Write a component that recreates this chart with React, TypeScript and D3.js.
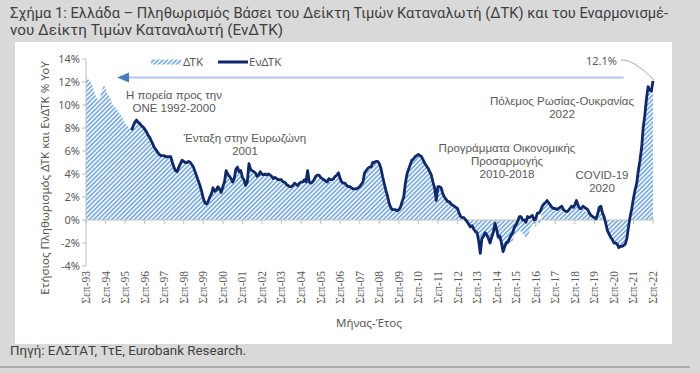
import * as d3 from "d3";
import React from "react";

// monthly y/y %, ΔΤΚ from Sep 1993, ΕνΔΤΚ from Jan 1996, both to Sep 2022
const cpi: number[] = [
  12.5, 12.3, 12.1, 12.0, // 1993 Sep-Dec
  11.6, 11.2, 10.8, 10.5, 10.4, 10.9, 11.4, 11.7, 11.5, 11.0, 10.8, 10.6,
  10.1, 9.9, 9.8, 9.6, 9.4, 9.2, 9.0, 8.7, 8.4, 8.2, 8.1, 7.9,
  8.1, 8.3, 8.5, 8.6, 8.4, 8.3, 8.2, 8.0, 7.8, 7.6, 7.4, 7.2,
  6.8, 6.5, 6.2, 6.0, 5.8, 5.6, 5.5, 5.5, 5.5, 5.4, 5.4, 5.3,
  5.3, 4.9, 4.5, 4.2, 4.1, 4.5, 4.8, 5.1, 5.0, 4.9, 4.9, 4.9,
  4.8, 4.6, 4.4, 4.0, 3.6, 3.2, 2.8, 2.3, 1.8, 1.5, 1.4, 1.6,
  2.0, 2.3, 2.7, 2.5, 2.6, 2.8, 2.7, 2.5, 2.9, 3.3, 4.2, 3.9,
  3.7, 3.5, 3.2, 3.5, 4.3, 4.5, 4.1, 4.2, 3.6, 3.4, 3.0, 3.2,
  4.6, 4.3, 4.2, 4.0, 4.0, 3.7, 3.7, 4.0, 3.8, 3.7, 3.8, 3.7,
  3.8, 3.7, 3.6, 3.4, 3.5, 3.4, 3.4, 3.3, 3.3, 3.1, 3.1, 3.0,
  2.9, 2.8, 2.8, 2.9, 3.0, 3.0, 2.9, 3.0, 3.1, 3.1, 3.3, 3.1,
  4.1, 3.2, 3.1, 3.2, 3.4, 3.6, 3.7, 3.7, 3.6, 3.5, 3.4, 3.3,
  3.2, 3.4, 3.3, 3.3, 3.4, 3.6, 3.7, 3.9, 3.5, 3.2, 3.1, 3.1,
  2.9, 2.8, 2.8, 2.7, 2.6, 2.6, 2.6, 2.7, 2.8, 3.0, 3.2, 3.9,
  4.1, 4.3, 4.4, 4.4, 4.8, 4.9, 4.9, 4.9, 4.7, 4.4, 3.7, 3.1,
  2.5, 2.0, 1.5, 1.1, 0.9, 0.8, 0.8, 0.8, 0.9, 1.1, 1.6, 2.0,
  3.1, 3.9, 4.3, 4.7, 5.1, 5.2, 5.4, 5.5, 5.6, 5.5, 5.4, 5.1,
  4.8, 4.6, 4.4, 4.1, 3.8, 3.2, 2.7, 1.6, 2.8, 2.8, 2.7, 2.3,
  2.0, 1.7, 1.6, 1.5, 1.3, 1.2, 1.2, 1.0, 0.9, 0.6, 0.3, 0.3,
  0.2, 0.1, -0.2, -0.6, -0.5, -0.6, -0.9, -1.3, -1.2, -2.0, -2.9, -1.8,
  -1.5, -1.3, -1.5, -1.7, -2.1, -1.7, -1.4, -0.9, -1.2, -1.8, -1.6, -2.2,
  -2.8, -2.4, -2.2, -2.1, -2.0, -1.9, -1.8, -1.3, -1.2, -1.1, -0.9, -1.0,
  -1.2, -1.3, -1.6, -1.4, -1.1, -0.6, -0.4, -0.3, -0.6, -0.1, -0.3, -0.2,
  1.0, 1.3, 1.4, 1.6, 1.4, 1.1, 1.0, 0.8, 0.8, 0.7, 0.8, 0.9,
  1.0, 0.7, 0.6, 0.5, 0.6, 0.8, 1.0, 0.9, 1.1, 1.5, 1.1, 0.8,
  0.8, 1.0, 0.8, 0.7, 0.7, 0.4, 0.2, 0.1, 0.0, -0.1, 0.3, 0.9,
  1.0, 0.4, 0.1, -0.5, -1.1, -1.4, -1.6, -1.8, -2.1, -2.1, -2.2, -2.4,
  -2.4, -2.4, -2.3, -2.2, -1.7, -0.7, 0.2, 0.9, 1.8, 2.5, 3.1, 4.2,
  5.1, 6.2, 7.8, 9.0, 10.2, 11.3, 11.1, 11.0, 11.9, // 2022 Jan-Sep
];

const hicp: number[] = [
  7.8, 8.2, 8.5, 8.7, 8.5, 8.4, 8.2, 8.1, 7.9, 7.7, 7.4, 7.2, // 1996
  6.9, 6.6, 6.3, 6.1, 5.9, 5.7, 5.6, 5.6, 5.6, 5.5, 5.5, 5.5,
  5.5, 5.0, 4.6, 4.3, 4.2, 4.6, 4.9, 5.2, 5.1, 5.0, 5.0, 5.1,
  5.0, 4.8, 4.6, 4.2, 3.8, 3.4, 3.0, 2.5, 1.9, 1.5, 1.4, 1.6,
  2.0, 2.3, 2.8, 2.5, 2.6, 2.9, 2.7, 2.4, 2.9, 3.3, 4.3, 4.0,
  3.8, 3.6, 3.3, 3.6, 4.4, 4.6, 4.2, 4.3, 3.7, 3.5, 3.0, 3.3,
  4.9, 4.4, 4.3, 4.2, 4.1, 3.8, 3.9, 4.2, 4.0, 3.9, 4.0, 3.9,
  4.0, 3.9, 3.8, 3.6, 3.7, 3.6, 3.5, 3.5, 3.5, 3.3, 3.3, 3.1,
  3.0, 2.9, 2.9, 3.0, 3.2, 3.1, 3.0, 3.2, 3.3, 3.3, 3.5, 3.3,
  4.3, 3.3, 3.2, 3.3, 3.5, 3.8, 3.9, 3.9, 3.7, 3.6, 3.5, 3.4,
  3.3, 3.6, 3.5, 3.5, 3.6, 3.8, 3.9, 4.1, 3.6, 3.3, 3.2, 3.2,
  3.0, 2.9, 2.9, 2.8, 2.7, 2.7, 2.7, 2.8, 2.9, 3.1, 3.3, 4.1,
  4.3, 4.5, 4.6, 4.6, 5.0, 5.0, 5.1, 5.1, 4.9, 4.5, 3.8, 3.2,
  2.6, 2.1, 1.5, 1.1, 0.9, 0.9, 0.9, 0.8, 0.9, 1.1, 1.6, 2.0,
  3.2, 4.0, 4.4, 4.8, 5.2, 5.3, 5.5, 5.6, 5.7, 5.6, 5.5, 5.2,
  4.9, 4.7, 4.5, 4.2, 3.9, 3.3, 2.8, 1.7, 2.9, 2.9, 2.8, 2.3,
  2.0, 1.8, 1.6, 1.6, 1.4, 1.3, 1.2, 1.1, 1.0, 0.6, 0.3, 0.2,
  0.2, 0.0, -0.15, -0.4, -0.6, -0.5, -0.8, -1.0, -1.1, -1.8, -2.9, -1.6,
  -1.4, -1.1, -1.3, -1.6, -2.0, -1.5, -1.1, -0.3, -0.8, -1.5, -1.4, -2.0,
  -2.75, -2.3, -2.0, -1.9, -1.6, -1.3, -1.1, -0.6, -0.4, -0.1, 0.3, 0.3,
  0.0, 0.0, -0.2, 0.3, 0.2, 0.3, 0.4, 0.0, 0.1, 0.6, 0.6, 0.8,
  1.2, 1.4, 1.5, 1.7, 1.5, 1.3, 1.1, 1.0, 1.0, 0.9, 1.0, 1.1,
  1.2, 0.9, 0.8, 0.7, 0.8, 1.0, 1.2, 1.1, 1.3, 1.7, 1.3, 1.0,
  1.0, 1.2, 1.1, 1.0, 0.9, 0.6, 0.4, 0.3, 0.2, 0.1, 0.5, 1.1,
  1.2, 0.6, 0.3, -0.3, -0.9, -1.2, -1.5, -1.7, -2.0, -2.0, -2.1, -2.4,
  -2.3, -2.3, -2.2, -2.1, -1.6, -0.6, 0.3, 1.0, 1.9, 2.6, 3.2, 4.3,
  5.2, 6.3, 8.0, 9.1, 10.5, 11.6, 11.3, 11.2, 12.1, // 2022 Jan-Sep
];

const yTicks = [-4, -2, 0, 2, 4, 6, 8, 10, 12, 14];
const tickYears = d3.range(1993, 2023);

const notes = [
  { lines: ["Η πορεία προς την", "ΟΝΕ 1992-2000"], x: 174, y: 95 },
  { lines: ["Ένταξη στην Ευρωζώνη", "2001"], x: 245, y: 138 },
  { lines: ["Πόλεμος Ρωσίας-Ουκρανίας", "2022"], x: 562, y: 101 },
  { lines: ["Προγράμματα Οικονομικής", "Προσαρμογής", "2010-2018"], x: 507, y: 148 },
  { lines: ["COVID-19", "2020"], x: 602, y: 175 },
];

const W = 700, H = 373;
const navy = "#0f2868";
const grey = "#595959";
const sans = "'Noto Sans', 'Open Sans', sans-serif";

const start = new Date(1993, 8, 1);
const hicpStart = new Date(1996, 0, 1);

export default function App() {
  const x = d3.scaleTime().domain([start, new Date(2022, 8, 1)]).range([86, 653]);
  const y = d3.scaleLinear().domain([-4, 14]).range([266, 59]);

  const cpiPts = cpi.map((v, i) => ({ d: d3.timeMonth.offset(start, i), v }));
  const hicpPts = hicp.map((v, i) => ({ d: d3.timeMonth.offset(hicpStart, i), v }));

  const area = d3.area<{ d: Date; v: number }>()
    .x((p) => x(p.d)).y0(y(0)).y1((p) => y(p.v));
  const line = d3.line<{ d: Date; v: number }>()
    .x((p) => x(p.d)).y((p) => y(p.v));

  const last = hicpPts[hicpPts.length - 1];
  const lx = x(last.d), ly = y(last.v);

  return (
    <svg width={W} height={H} style={{ position: "absolute", left: 0, top: 0 }}>
      <defs>
        <pattern id="hatch" width={3.2} height={3.2} patternUnits="userSpaceOnUse" patternTransform="rotate(45)">
          <rect width={3.2} height={3.2} fill="#f1f6fc" />
          <rect width={1.5} height={3.2} fill="#76a9dc" />
        </pattern>
      </defs>
      <rect width={W} height={H} fill="#d9d9d9" />
      <rect x={15} y={42} width={657} height={302} fill="#ffffff" />
      <line x1={0} x2={690} y1={367} y2={367} stroke="#7f7f7f" strokeWidth={1} />

      <text x={10} y={18} fontFamily="'Liberation Sans Narrow', Roboto, sans-serif" fontSize={15} fill="#404040"
        textLength={658} lengthAdjust="spacingAndGlyphs">
        Σχήμα 1: Ελλάδα – Πληθωρισμός Βάσει του Δείκτη Τιμών Καταναλωτή (ΔΤΚ) και του Εναρμονισμέ-
      </text>
      <text x={10} y={35} fontFamily="'Liberation Sans Narrow', Roboto, sans-serif" fontSize={15} fill="#404040"
        textLength={273} lengthAdjust="spacingAndGlyphs">
        νου Δείκτη Τιμών Καταναλωτή (ΕνΔΤΚ)
      </text>
      <text x={10} y={355} fontFamily="'Liberation Sans Narrow', Roboto, sans-serif" fontSize={13} fill="#404040"
        textLength={236} lengthAdjust="spacingAndGlyphs">
        Πηγή: ΕΛΣΤΑΤ, ΤτΕ, Eurobank Research.
      </text>

      <path d={area(cpiPts) || ""} fill="url(#hatch)" />

      {/* axes */}
      <line x1={86} x2={86} y1={y(14)} y2={y(-4)} stroke="#bfbfbf" />
      {yTicks.map((t) => (
        <g key={t}>
          <line x1={82} x2={86} y1={y(t)} y2={y(t)} stroke="#bfbfbf" />
          <text x={80} y={y(t)} dy="0.35em" textAnchor="end" fontFamily={sans} fontSize={11} fill={grey}>
            {t}%
          </text>
        </g>
      ))}
      <line x1={86} x2={654} y1={y(0)} y2={y(0)} stroke="#bfbfbf" strokeWidth={1.2} />
      {tickYears.map((yr) => {
        const tx = x(new Date(yr, 8, 1));
        return (
          <g key={yr}>
            <line x1={tx} x2={tx} y1={y(0)} y2={y(0) + 4} stroke="#bfbfbf" />
            <text transform={`translate(${tx + 4},271) rotate(-90)`} textAnchor="end"
              fontFamily="'Liberation Serif', 'DejaVu Serif', serif" fontSize={11.5} fill={grey}>
              {`Σεπ-${String(yr % 100).padStart(2, "0")}`}
            </text>
          </g>
        );
      })}

      <path d={line(hicpPts) || ""} fill="none" stroke={navy} strokeWidth={2.8} strokeLinejoin="round" />

      {/* arrow */}
      <line x1={x(new Date(2021, 2, 1))} x2={124} y1={77.5} y2={77.5} stroke="#b4c6e7" strokeWidth={2.2} />
      <path d="M117,77.5 L129,72.5 L129,82.5 Z" fill="#4a7ebb" />

      {/* 12.1% label */}
      <text x={617} y={61} dy="0.35em" textAnchor="end" fontFamily={sans} fontSize={11} fill={grey}>
        12.1%
      </text>
      <path d={`M621,60 Q632,58 ${lx + 1},${ly - 1}`} fill="none" stroke="#a6a6a6" strokeWidth={1} />

      {notes.map((n, i) => (
        <g key={i}>
          {n.lines.map((l, j) => (
            <text key={j} x={n.x} y={n.y + j * 12.9} dy="0.35em" textAnchor="middle"
              fontFamily="'Liberation Sans', Arial, sans-serif" fontSize={11.5} fill={grey}>{l}</text>
          ))}
        </g>
      ))}

      {/* legend */}
      <rect x={151} y={59.5} width={30} height={5} fill="url(#hatch)" />
      <text x={183} y={62} dy="0.35em" fontFamily={sans} fontSize={11.5} fill={grey}>ΔΤΚ</text>
      <line x1={218} x2={248} y1={62} y2={62} stroke={navy} strokeWidth={3} />
      <text x={249} y={62} dy="0.35em" fontFamily={sans} fontSize={11.5} fill={grey}>ΕνΔΤΚ</text>

      <text transform="translate(49,178) rotate(-90)" textAnchor="middle" fontFamily={sans} fontSize={11.5} fill={grey}>
        Ετήσιος Πληθωρισμός ΔΤΚ και ΕνΔΤΚ % YoY
      </text>
      <text x={369} y={323} dy="0.35em" textAnchor="middle" fontFamily={sans} fontSize={11.5} fill={grey}>
        Μήνας-Έτος
      </text>
    </svg>
  );
}
